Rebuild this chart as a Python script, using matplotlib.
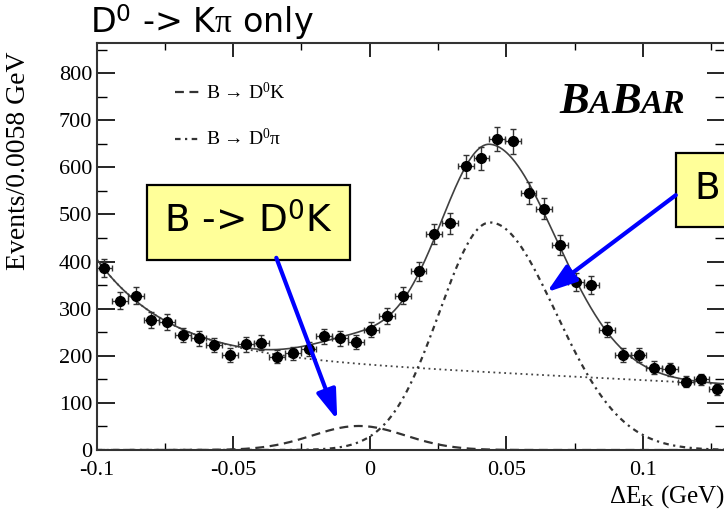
import numpy as np
import matplotlib
matplotlib.use("Agg")
import matplotlib.pyplot as plt
from matplotlib.patches import Rectangle
from matplotlib.offsetbox import TextArea, HPacker, AnnotationBbox

plt.rcParams['font.family'] = ['Liberation Serif', 'DejaVu Serif']
plt.rcParams['mathtext.fontset'] = 'custom'
plt.rcParams['mathtext.rm'] = 'Liberation Serif'
plt.rcParams['mathtext.it'] = 'Liberation Serif:italic'
plt.rcParams['mathtext.bf'] = 'Liberation Serif:bold'
plt.rcParams['mathtext.sf'] = 'DejaVu Sans'

# histogram: 40 bins of Delta E_K between -0.1 and 0.13 GeV
x_range = (-0.1, 0.13)
n_bins = 40
counts = [386, 317, 327, 276, 272, 244, 237, 223, 202, 224,
          228, 198, 205, 214, 241, 237, 229, 255, 285, 327,
          379, 459, 481, 602, 619, 660, 655, 545, 512, 435,
          357, 350, 255, 202, 202, 175, 171, 145, 150, 129]

# fit components
bkg_const, bkg_slope = 177.0, -288.0        # linear part of background
bkg_exp_amp, bkg_exp_tau = 200.0, 0.0259    # rising part at low Delta E
dk_mean, dk_height, dk_sigma = -0.004, 51.0, 0.017
dpi_mean, dpi_height = 0.044, 483.0
dpi_sigma_left, dpi_sigma_right = 0.0185, 0.024

edges = np.linspace(x_range[0], x_range[1], n_bins + 1)
centers = 0.5 * (edges[1:] + edges[:-1])
half_bin = 0.5 * (edges[1] - edges[0])
counts = np.array(counts, dtype=float)
errors = np.sqrt(counts)

xf = np.linspace(x_range[0], x_range[1], 600)
bkg = bkg_const + bkg_slope * xf + bkg_exp_amp * np.exp(-(xf - x_range[0]) / bkg_exp_tau)
dk = dk_height * np.exp(-0.5 * ((xf - dk_mean) / dk_sigma) ** 2)
sig = np.where(xf < dpi_mean, dpi_sigma_left, dpi_sigma_right)
dpi = dpi_height * np.exp(-0.5 * ((xf - dpi_mean) / sig) ** 2)
total = bkg + dk + dpi

fig = plt.figure(figsize=(7.24, 5.17), dpi=100)
W, H = 724.0, 517.0
ax = fig.add_axes([96.5 / W, (H - 450) / H, (725 - 96.5) / W, (450 - 43) / H])

ax.plot(xf, bkg, color='#444444', lw=1.3, ls=(0, (1, 2)))
dk_line, = ax.plot(xf, dk, color='#333333', lw=1.6, ls=(0, (4, 2.5)))
dpi_line, = ax.plot(xf, dpi, color='#333333', lw=1.6, ls=(0, (2.5, 2, 1, 2)))
ax.plot(xf, total, color='#404040', lw=1.2)
ax.errorbar(centers, counts, yerr=errors, xerr=half_bin, fmt='o', ms=7,
            color='black', ecolor='#333333', elinewidth=1, capsize=2, capthick=1)

ax.set_xlim(*x_range)
ax.set_ylim(0, 864)
ax.set_xticks([-0.1, -0.05, 0, 0.05, 0.1])
ax.set_xticklabels(['-0.1', '-0.05', '0', '0.05', '0.1'])
ax.set_xticks(np.arange(-0.1, 0.13, 0.025), minor=True)
ax.set_yticks(np.arange(0, 801, 100))
ax.set_yticks(np.arange(0, 864, 50), minor=True)
ax.tick_params(which='both', direction='in', top=True, right=True, labelsize=16)
ax.tick_params(axis='y', which='major', length=13, width=1.2, pad=3)
ax.tick_params(axis='y', which='minor', length=7, width=1)
ax.tick_params(axis='x', which='major', length=10, width=1.2, pad=8)
ax.tick_params(axis='x', which='minor', length=5, width=1)
for s in ax.spines.values():
    s.set_linewidth(1.5)
    s.set_color('#333333')

ax.set_ylabel('Events/0.0058 GeV', fontsize=20)
ax.yaxis.set_label_coords(-0.104, 0.71)
ax.set_xlabel(r'$\Delta$E$_{\mathrm{K}}$ (GeV)', fontsize=18, loc='right', labelpad=2)

ax.legend([dk_line, dpi_line],
          ['B → D$^0$K', r'B → D$^0\mathrm{\pi}$'],
          loc='upper left', bbox_to_anchor=(0.125, 0.905), frameon=False,
          fontsize=14, handlelength=1.3, handletextpad=0.3, labelspacing=1.3,
          borderpad=0, borderaxespad=0)

# BaBar logo in small caps
logo_parts = [('B', 32), ('A', 24), ('B', 32), ('AR', 24)]
areas = [TextArea(t, textprops=dict(size=s, weight='bold', style='italic',
                                    family='Liberation Serif'))
         for t, s in logo_parts]
logo = HPacker(children=areas, align='baseline', pad=0, sep=0)
ax.add_artist(AnnotationBbox(logo, (0.837, 0.855), xycoords='axes fraction',
                             frameon=False, box_alignment=(0.5, 0.5)))

# title
fig.text(90 / W, 1 - 33 / H, r'D$^{\mathsf{0}}$ -> K$\mathrm{\pi}$ only',
         family='DejaVu Sans', fontsize=24, va='baseline', ha='left')

# annotation boxes with arrows
box_yellow = '#ffff99'
ax.add_patch(Rectangle((-0.0814, 403.5), 0.0742, 159.3, facecolor=box_yellow,
                       edgecolor='black', lw=1.6, zorder=5, clip_on=False))
ax.text(-0.0443, 483, r'B -> D$^{\mathsf{0}}$K', family='DejaVu Sans', fontsize=27,
        ha='center', va='center', zorder=6)
ax.add_patch(Rectangle((0.112, 473.6), 0.06, 157.1, facecolor=box_yellow,
                       edgecolor='black', lw=1.6, zorder=5, clip_on=False))
ax.text(0.1186, 552, r'B -> D$^{\mathsf{0}}\mathrm{\pi}$', family='DejaVu Sans',
        fontsize=27, ha='left', va='center', zorder=6, clip_on=False)

arrow_style = dict(arrowstyle='-|>,head_length=0.9,head_width=0.3', color='#0000ff',
                   lw=3, mutation_scale=20, shrinkA=0, shrinkB=0)
ax.annotate('', xy=(-0.0119, 64), xytext=(-0.0342, 408), arrowprops=arrow_style, zorder=7)
ax.annotate('', xy=(0.0648, 335), xytext=(0.112, 541), arrowprops=arrow_style, zorder=7)

fig.savefig('out.png', dpi=100)
